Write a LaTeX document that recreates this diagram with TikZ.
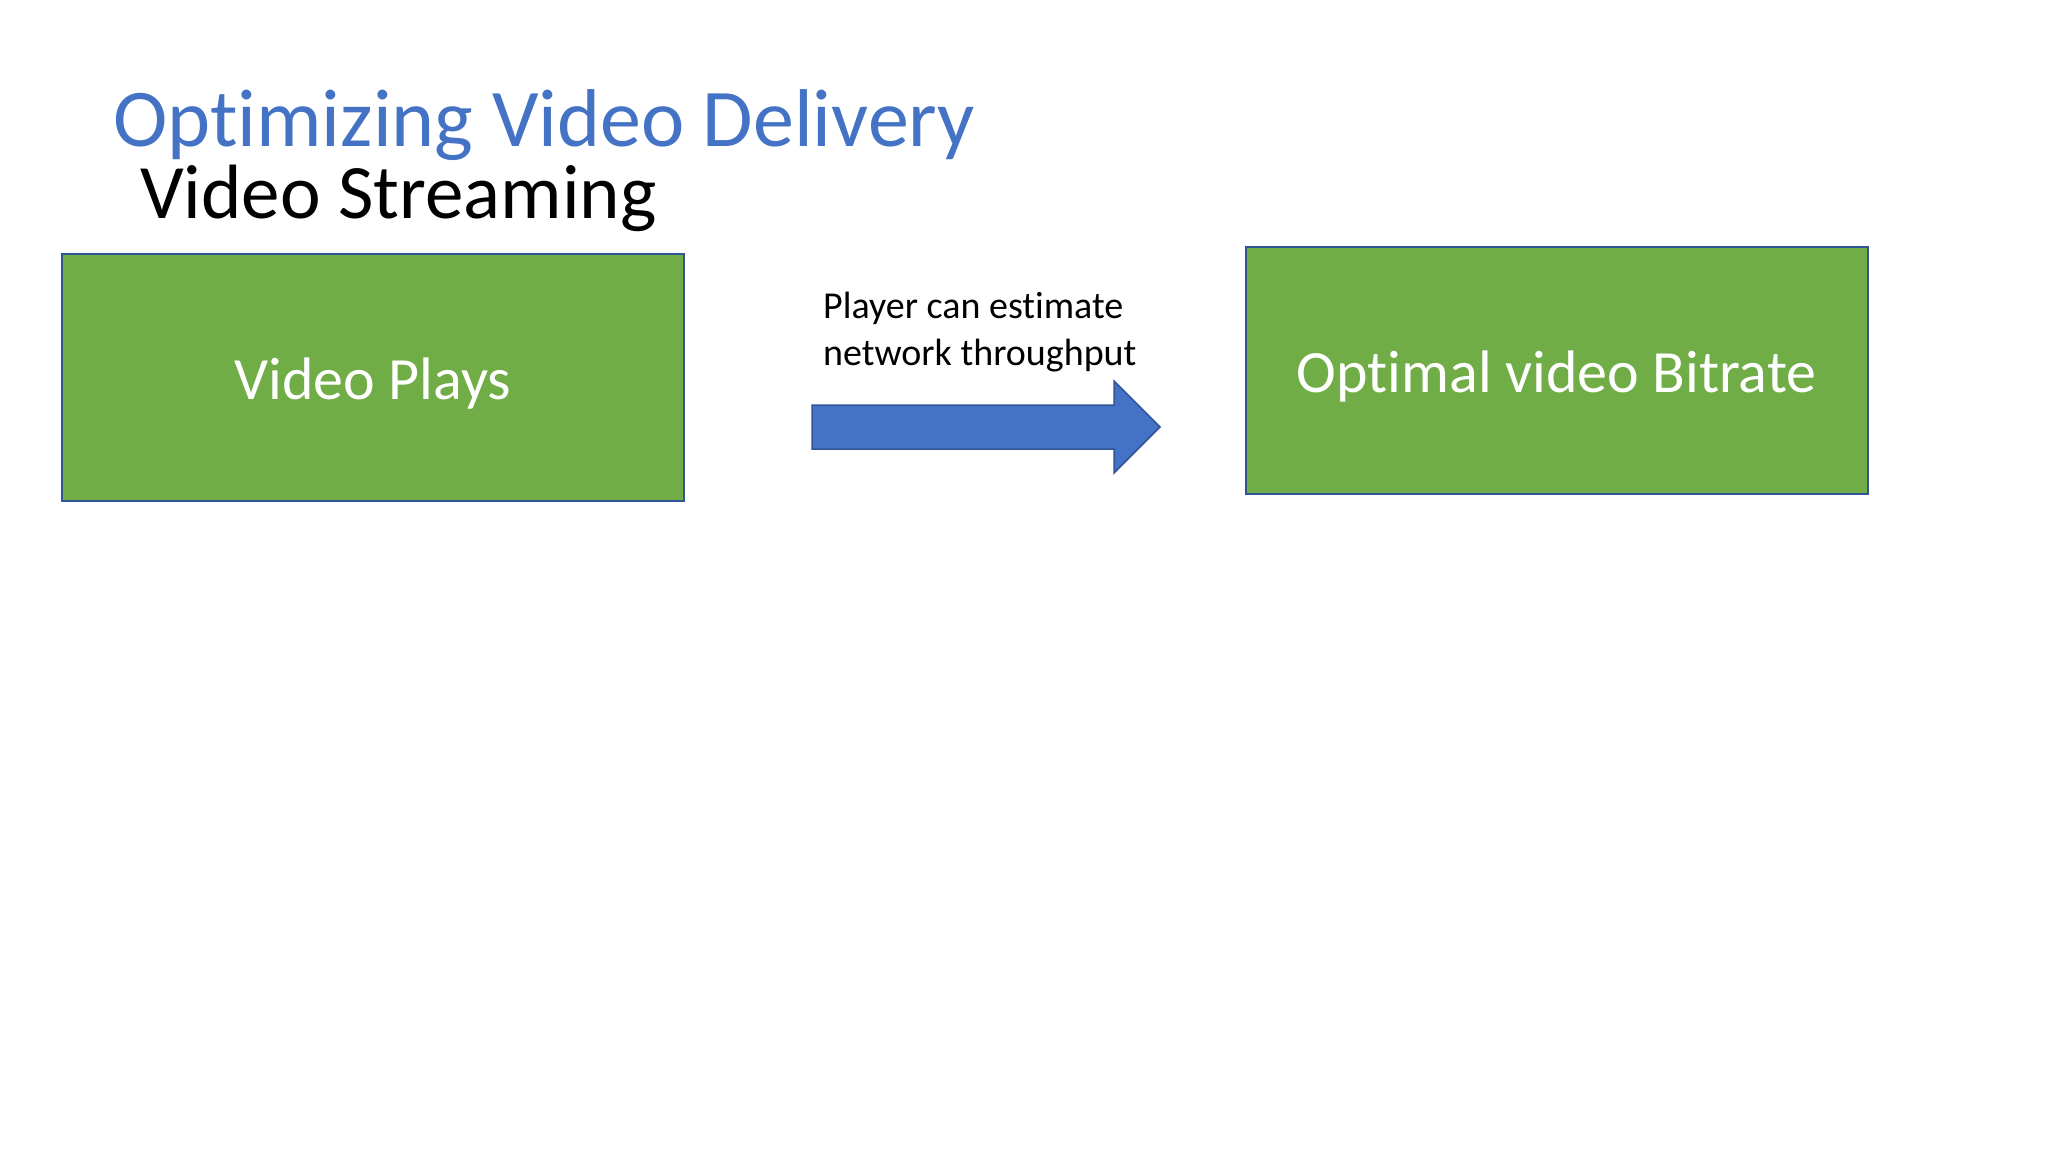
\documentclass[tikz,border=0pt]{standalone}
\usepackage{fontspec}
\setmainfont{Carlito}[Ligatures=NoCommon]
\definecolor{titleblue}{HTML}{4472C4}
\definecolor{edgeblue}{HTML}{2F5597}
\definecolor{boxgreen}{HTML}{70AD47}
\begin{document}
\begin{tikzpicture}[x=1pt,y=-1pt,
  greenbox/.style={rectangle, draw=edgeblue, line width=2pt, fill=boxgreen,
    minimum width=622pt, minimum height=247pt, inner sep=0pt,
    text=white, text height=44pt, text depth=0pt,
    font=\fontsize{60}{72}\selectfont},
  plaintext/.style={inner sep=0pt, anchor=base west},
  blockarrow/.style={draw=edgeblue, line width=1.5pt, fill=titleblue, line join=miter}
]
\useasboundingbox (0,0) rectangle (2048,1152);
\fill[white] (0,0) rectangle (2048,1152);

\node[plaintext, text=titleblue, font=\fontsize{82}{98}\selectfont] (title) at (113,146) {Optimizing Video Delivery};
\node[plaintext, text=black, font=\fontsize{77}{92}\selectfont] (subtitle) at (140,218) {Video Streaming};

\node[greenbox] (plays) at (373,377.5) {Video Plays};
\node[greenbox] (bitrate) at (1556.5,370.5) {Optimal video Bitrate};

\node[plaintext, align=left, text=black, font=\fontsize{38}{47}\selectfont] (label) at (823,365)
  {Player can estimate\\network throughput};

\coordinate (arrS) at (812,427);
\coordinate (arrE) at (1160,427);
\draw[blockarrow] (arrS) ++(0,-22) -- ++(302,0) -- ++(0,-24) -- (arrE)
  -- ++(-46,46) -- ++(0,-24) -- ++(-302,0) -- cycle;
\end{tikzpicture}
\end{document}
